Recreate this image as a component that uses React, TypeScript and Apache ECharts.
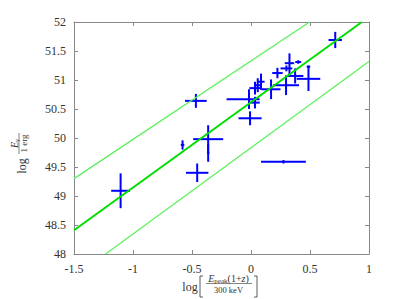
import React, { useEffect, useRef } from "react";
import * as echarts from "echarts";

// Data points: log[Epeak(1+z)/300keV], log[E_gamma/1erg] and asymmetric errors
const ptX = [0.714, -0.467, -0.008, -0.363, -0.363, -0.58, -0.456, -1.105, 0.275, -0.017, 0.034, 0.057, 0.085, 0.034, 0.224, 0.326, 0.3, 0.4, 0.374, 0.297, 0.487, 0.487, 0.17];
const ptY = [51.69, 50.64, 50.34, 49.98, 49.74, 49.88, 49.4, 49.09, 49.59, 50.67, 50.86, 50.91, 50.97, 50.61, 51.12, 51.29, 51.2, 51.31, 51.07, 50.91, 51.02, 51.23, 50.84];
const errXLo = [0.057, 0.092, 0.098, 0.127, 0.01, 0.015, 0.095, 0.08, 0.19, 0.19, 0.048, 0.03, 0.03, 0.04, 0.044, 0.04, 0.05, 0.025, 0.07, 0.11, 0.1, 0.015, 0.08];
const errXHi = [0.057, 0.092, 0.098, 0.127, 0.01, 0.015, 0.095, 0.08, 0.19, 0.09, 0.048, 0.03, 0.03, 0.04, 0.044, 0.04, 0.05, 0.025, 0.07, 0.11, 0.1, 0.015, 0.08];
const errYLo = [0.14, 0.12, 0.12, 0.24, 0.15, 0.08, 0.16, 0.3, 0.03, 0.17, 0.11, 0.12, 0.14, 0.1, 0.09, 0.2, 0.05, 0.03, 0.13, 0.17, 0.21, 0.02, 0.17];
const errYHi = [0.14, 0.12, 0.12, 0.24, 0.15, 0.08, 0.16, 0.3, 0.03, 0.17, 0.11, 0.12, 0.14, 0.1, 0.09, 0.17, 0.05, 0.03, 0.13, 0.17, 0.21, 0.02, 0.17];

// Fit line and its scatter band (endpoints)
const fitLine = [[-1.5, 48.41], [0.94, 52.0]];
const upperLine = [[-1.5, 49.3], [0.496, 52.0]];
const lowerLine = [[-1.232, 48.0], [1.0, 51.32]];

const xTicks = { min: -1.5, max: 1, interval: 0.5 };
const yTicks = { min: 48, max: 52, interval: 0.5 };

const SERIF = '"Liberation Serif", "DejaVu Serif", serif';
const TXT = "#333";

type Frag = { text: string; size: number; italic?: boolean; dy?: number };

function makeMeasurer() {
  const c = document.createElement("canvas").getContext("2d")!;
  return (f: Frag) => {
    c.font = `${f.italic ? "italic " : ""}${f.size}px ${SERIF}`;
    return c.measureText(f.text).width;
  };
}

function layout(frags: Frag[], cx: number, cy: number, rotated: boolean, measure: (f: Frag) => number) {
  const widths = frags.map(measure);
  const total = widths.reduce((a, b) => a + b, 0);
  let cur = -total / 2;
  return frags.map((f, i) => {
    const pos = cur;
    cur += widths[i];
    const dy = f.dy || 0;
    return {
      type: "text",
      x: rotated ? cx + dy : cx + pos,
      y: rotated ? cy - pos : cy + dy,
      rotation: rotated ? Math.PI / 2 : 0,
      silent: true,
      style: {
        text: f.text,
        fontSize: f.size,
        fontFamily: SERIF,
        fontStyle: f.italic ? "italic" : "normal",
        fill: TXT,
        align: "left",
        verticalAlign: "middle",
      },
    };
  });
}

export default function App() {
  const ref = useRef<HTMLDivElement>(null);
  useEffect(() => {
    if (!ref.current) return;
    const chart = echarts.init(ref.current, null, { renderer: "svg" });
    const measure = makeMeasurer();

    const data = ptX.map((x, i) => [x, ptY[i], errXLo[i], errXHi[i], errYLo[i], errYHi[i]]);

    const axisCommon = {
      type: "value" as const,
      splitLine: { show: false },
      axisLine: { show: true, onZero: false, lineStyle: { color: "#888", width: 1 } },
      axisTick: { show: true, inside: true, length: 4, lineStyle: { color: "#888" } },
    };

    const graphics: any[] = [];
    // X axis title: log [ E_peak(1+z) / 300 keV ]
    graphics.push(...layout([{ text: "log", size: 12 }], 190, 287, false, measure));
    graphics.push({ type: "polyline", silent: true, shape: { points: [[203, 276], [200, 276], [200, 297], [203, 297]] }, style: { stroke: TXT, lineWidth: 0.8, fill: null } });
    graphics.push(...layout([
      { text: "E", size: 10, italic: true },
      { text: "peak", size: 7, dy: 2.5 },
      { text: "(1+", size: 10 },
      { text: "z", size: 10, italic: true },
      { text: ")", size: 10 },
    ], 228.5, 278.5, false, measure));
    graphics.push({ type: "line", silent: true, shape: { x1: 206, y1: 283.5, x2: 252, y2: 283.5 }, style: { stroke: TXT, lineWidth: 0.6 } });
    graphics.push(...layout([{ text: "300 keV", size: 8.5 }], 228.5, 289.5, false, measure));
    graphics.push({ type: "polyline", silent: true, shape: { points: [[254, 276], [257, 276], [257, 297], [254, 297]] }, style: { stroke: TXT, lineWidth: 0.8, fill: null } });

    // Y axis title: log E_gamma / 1 erg (rotated)
    graphics.push(...layout([{ text: "log", size: 12 }], 22, 166, true, measure));
    graphics.push(...layout([
      { text: "E", size: 10, italic: true },
      { text: "γ", size: 7, italic: true, dy: 2.5 },
    ], 14.5, 143.5, true, measure));
    graphics.push({ type: "line", silent: true, shape: { x1: 19, y1: 133, x2: 19, y2: 154 }, style: { stroke: TXT, lineWidth: 0.6 } });
    graphics.push(...layout([{ text: "1 erg", size: 9 }], 23.5, 143.5, true, measure));

    chart.setOption({
      animation: false,
      backgroundColor: "#fff",
      grid: { left: 74, right: 36, top: 22, bottom: 45, containLabel: false },
      xAxis: [
        {
          ...axisCommon,
          ...xTicks,
          position: "bottom",
          axisLabel: { color: TXT, fontFamily: SERIF, fontSize: 12, margin: 9 },
        },
        { ...axisCommon, ...xTicks, position: "top", axisLabel: { show: false } },
      ],
      yAxis: [
        {
          ...axisCommon,
          ...yTicks,
          position: "left",
          axisLabel: { color: TXT, fontFamily: SERIF, fontSize: 12, margin: 8 },
        },
        { ...axisCommon, ...yTicks, position: "right", axisLabel: { show: false } },
      ],
      graphic: graphics,
      series: [
        {
          type: "line",
          data: upperLine,
          showSymbol: false,
          clip: true,
          lineStyle: { color: "#5ef05e", width: 1.3 },
          silent: true,
        },
        {
          type: "line",
          data: lowerLine,
          showSymbol: false,
          clip: true,
          lineStyle: { color: "#5ef05e", width: 1.3 },
          silent: true,
        },
        {
          type: "line",
          data: fitLine,
          showSymbol: false,
          clip: true,
          lineStyle: { color: "#00dd00", width: 2 },
          silent: true,
        },
        {
          type: "custom",
          data,
          encode: { x: 0, y: 1 },
          clip: true,
          renderItem: (params: any, api: any) => {
            const x = api.value(0), y = api.value(1);
            const p1 = api.coord([x - api.value(2), y]);
            const p2 = api.coord([x + api.value(3), y]);
            const p3 = api.coord([x, y - api.value(4)]);
            const p4 = api.coord([x, y + api.value(5)]);
            const st = { stroke: "#0000ff", lineWidth: 2 };
            return {
              type: "group",
              children: [
                { type: "line", shape: { x1: p1[0], y1: p1[1], x2: p2[0], y2: p2[1] }, style: st },
                { type: "line", shape: { x1: p3[0], y1: p3[1], x2: p4[0], y2: p4[1] }, style: st },
              ],
            };
          },
        },
      ],
    });
    return () => chart.dispose();
  }, []);
  return <div ref={ref} style={{ position: "fixed", left: 0, top: 0, width: 405, height: 299 }} />;
}
